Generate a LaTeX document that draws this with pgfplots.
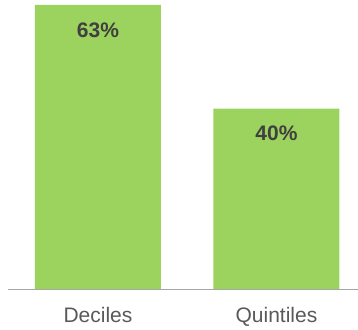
\documentclass[border=0pt]{standalone}
\usepackage{pgfplots}
\pgfplotsset{compat=1.18}
\usepackage{fontspec}
\setmainfont{Liberation Sans}
\definecolor{bargreen}{HTML}{9BD35E}
\definecolor{valgray}{HTML}{404040}
\definecolor{catgray}{HTML}{595959}
\definecolor{axgray}{HTML}{A6A6A6}
\begin{document}
\begin{tikzpicture}
\useasboundingbox (-8pt,-40pt) rectangle (350pt,289pt);
\begin{axis}[
  at={(0,0)}, anchor=south west,
  scale only axis, width=350pt, height=289pt,
  xmin=-0.504, xmax=1.457, ymin=0, ymax=64.1,
  /pgf/number format/assume math mode=true,
  axis y line=none,
  axis x line*=bottom,
  x axis line style={draw=axgray, line width=1pt, -},
  xtick={0,1}, xticklabels={Deciles,Quintiles},
  major tick length=0pt,
  xticklabel style={anchor=base, yshift=-33pt, text=catgray, font=\fontsize{21}{25}\selectfont},
  ybar, bar width=126pt,
  nodes near coords={\pgfmathprintnumber{\pgfplotspointmeta}\%},
  nodes near coords style={anchor=center, yshift=-25pt, text=valgray, font=\fontsize{21}{25}\selectfont\bfseries},
  clip=false,
]
\addplot[fill=bargreen, draw=none] coordinates {(0,63) (1,40)};
\end{axis}
\end{tikzpicture}
\end{document}
